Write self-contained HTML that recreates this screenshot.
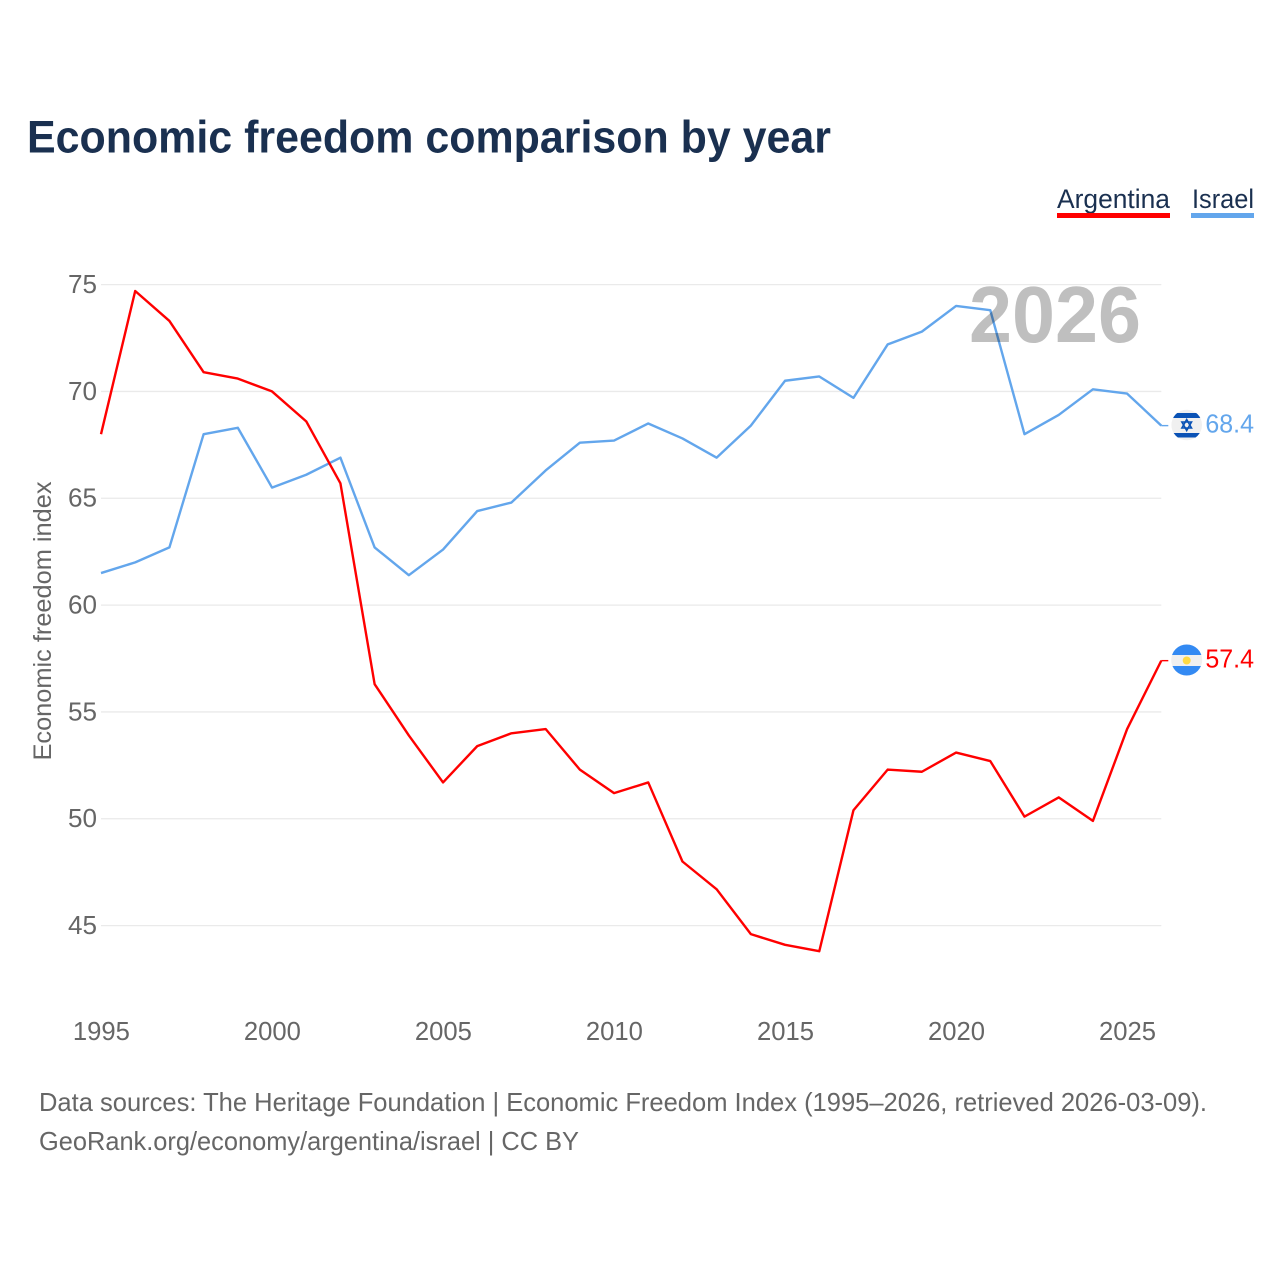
<!DOCTYPE html>
<html lang="en">
<head>
<meta charset="utf-8">
<title>Economic freedom comparison by year</title>
<style>
html,body{margin:0;padding:0;background:#fff;}
svg{display:block;font-family:"Liberation Sans",sans-serif;}
</style>
</head>
<body>
<svg id="chart" width="1280" height="1280" viewBox="0 0 1280 1280" xmlns="http://www.w3.org/2000/svg">
  <rect width="1280" height="1280" fill="#ffffff"/>
  <text x="27" y="152.5" font-size="45" font-weight="700" fill="#1a3050" textLength="804" lengthAdjust="spacingAndGlyphs">Economic freedom comparison by year</text>

  <g>
    <text x="1057" y="208" font-size="27" fill="#1a3050" textLength="113" lengthAdjust="spacingAndGlyphs">Argentina</text>
    <rect x="1057" y="213" width="113" height="5" fill="#ff0000"/>
  </g>
  <g>
    <text x="1192" y="208" font-size="27" fill="#1a3050" textLength="62" lengthAdjust="spacingAndGlyphs">Israel</text>
    <rect x="1191" y="213" width="63" height="5" fill="#63a6ec"/>
  </g>

  <g id="grid"></g>
  <g id="yticks"></g>
  <g id="xticks"></g>
  <text transform="translate(51,621) rotate(-90)" text-anchor="middle" font-size="25" fill="#666666" textLength="279" lengthAdjust="spacingAndGlyphs">Economic freedom index</text>

  <g id="series"></g>
  <text x="1055" y="342" text-anchor="middle" font-size="80" font-weight="700" fill="#000000" fill-opacity="0.25" textLength="172" lengthAdjust="spacingAndGlyphs">2026</text>
  <g id="endmarks"></g>

  <defs>
    <clipPath id="flag-il"><circle cx="1186.7" cy="425" r="15.3"/></clipPath>
    <clipPath id="flag-ar"><circle cx="1186.7" cy="660" r="15.5"/></clipPath>
  </defs>
  <g clip-path="url(#flag-il)">
    <rect x="1171" y="409" width="32" height="32" fill="#f0f0f0"/>
    <rect x="1171" y="413" width="32" height="5" fill="#0a52b5"/>
    <rect x="1171" y="433" width="32" height="4.5" fill="#0a52b5"/>
    <polygon points="1186.7,419.5 1191.5,428 1181.9,428" fill="none" stroke="#0a52b5" stroke-width="1.6"/>
    <polygon points="1186.7,430.5 1191.5,422 1181.9,422" fill="none" stroke="#0a52b5" stroke-width="1.6"/>
  </g>
  <g clip-path="url(#flag-ar)">
    <rect x="1171" y="644" width="32" height="32" fill="#f0f0f0"/>
    <rect x="1171" y="644" width="32" height="11" fill="#338af3"/>
    <rect x="1171" y="666" width="32" height="10" fill="#338af3"/>
    <circle cx="1186.7" cy="660.5" r="4" fill="#ffda44"/>
  </g>

  <text x="39" y="1111" font-size="26" fill="#666666" textLength="1168" lengthAdjust="spacingAndGlyphs">Data sources: The Heritage Foundation | Economic Freedom Index (1995–2026, retrieved 2026-03-09).</text>
  <text x="39" y="1150" font-size="26" fill="#666666" textLength="540" lengthAdjust="spacingAndGlyphs">GeoRank.org/economy/argentina/israel | CC BY</text>
</svg>
<script>
const years = [1995,1996,1997,1998,1999,2000,2001,2002,2003,2004,2005,2006,2007,2008,2009,2010,2011,2012,2013,2014,2015,2016,2017,2018,2019,2020,2021,2022,2023,2024,2025,2026];
const argentinaValues = [68.0,74.7,73.3,70.9,70.6,70.0,68.6,65.7,56.3,53.9,51.7,53.4,54.0,54.2,52.3,51.2,51.7,48.0,46.7,44.6,44.1,43.8,50.4,52.3,52.2,53.1,52.7,50.1,51.0,49.9,54.2,57.4];
const israelValues = [61.5,62.0,62.7,68.0,68.3,65.5,66.1,66.9,62.7,61.4,62.6,64.4,64.8,66.3,67.6,67.7,68.5,67.8,66.9,68.4,70.5,70.7,69.7,72.2,72.8,74.0,73.8,68.0,68.9,70.1,69.9,68.4];
const yTickLabels = [45,50,55,60,65,70,75];
const xTickLabels = [1995,2000,2005,2010,2015,2020,2025];

const NS = 'http://www.w3.org/2000/svg';
const xScale = function (year) { return 101 + (year - 1995) * (1161.3 - 101) / 31; };
const yScale = function (value) { return 925.6 - (value - 45) * (925.6 - 284.6) / 30; };

function make(tag, attrs, parent, text) {
  const el = document.createElementNS(NS, tag);
  Object.keys(attrs).forEach(function (k) { el.setAttribute(k, attrs[k]); });
  if (text !== undefined) el.textContent = text;
  parent.appendChild(el);
  return el;
}

const grid = document.getElementById('grid');
const yticks = document.getElementById('yticks');
const xticks = document.getElementById('xticks');
const seriesGroup = document.getElementById('series');
const endmarks = document.getElementById('endmarks');

yTickLabels.forEach(function (t) {
  const line = make('line', {x1: 101, x2: 1161.3, y1: yScale(t), y2: yScale(t), stroke: '#eaeaea', 'stroke-width': 1.3}, grid);
  
  
  const label = make('text', {x: 97, y: yScale(t) + 8.4, 'text-anchor': 'end', 'font-size': 25.5, fill: '#666666', textLength: 29, lengthAdjust: 'spacingAndGlyphs'}, yticks, String(t));
  
  
});

xTickLabels.forEach(function (t) {
  const label = make('text', {x: xScale(t) + 0.4, y: 1040, 'text-anchor': 'middle', 'font-size': 25.5, fill: '#666666', textLength: 57, lengthAdjust: 'spacingAndGlyphs'}, xticks, String(t));
  
  
});

function drawSeries(name, values, color, labelY) {
  const pts = values.map(function (v, i) { return xScale(years[i]).toFixed(2) + ',' + yScale(v).toFixed(2); }).join(' ');
  const line = make('polyline', {points: pts, fill: 'none', stroke: color, 'stroke-width': 2.4, 'stroke-linejoin': 'round'}, seriesGroup);
  
  

  const last = values[values.length - 1];
  const lx = xScale(years[years.length - 1]);
  const ly = yScale(last);
  const conn = make('line', {x1: lx, x2: lx + 7, y1: ly, y2: ly, stroke: color, 'stroke-width': 1.4}, endmarks);
  
  
  const valueLabel = make('text', {x: 1205.4, y: ly + labelY, 'font-size': 25.5, fill: color, textLength: 48.6, lengthAdjust: 'spacingAndGlyphs'}, endmarks, last.toFixed(1));
  
  
}

drawSeries('israel', israelValues, '#63a6ec', 7);
drawSeries('argentina', argentinaValues, '#ff0000', 6.6);
</script>
</body>
</html>
